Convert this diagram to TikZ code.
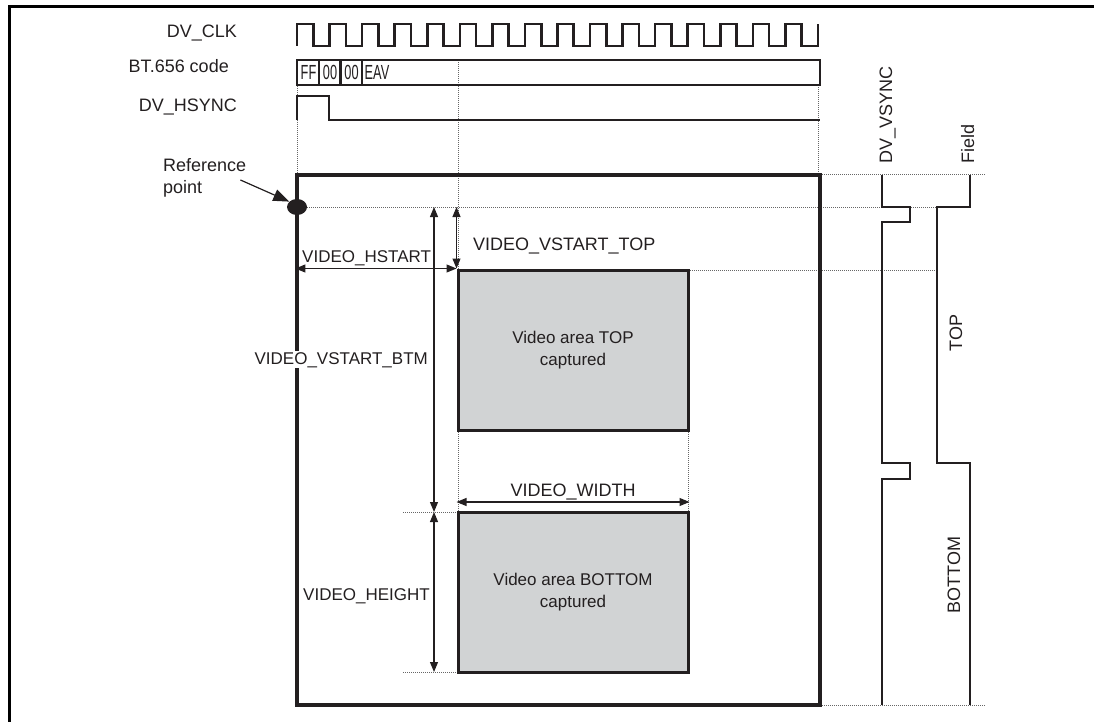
\documentclass[tikz,border=0pt]{standalone}
\usepackage{fontspec}
\setmainfont{Liberation Sans}
\usetikzlibrary{arrows.meta,shapes.geometric}
\definecolor{ink}{HTML}{231F20}
\definecolor{area}{HTML}{D1D3D4}
\newcommand{\codetxt}[1]{\scalebox{0.75}[1.2]{#1}}
\begin{document}
\begin{tikzpicture}[x=1pt,y=-1pt,
  wave/.style={line width=2.6pt, line join=miter, draw=ink},
  framebox/.style={draw=ink, line width=3.2pt, minimum width=523pt, minimum height=530pt, inner sep=0pt},
  dots/.style={dash pattern=on 1pt off 1pt, line width=0.8pt, draw=black!60},
  dim/.style={line width=1.1pt, draw=ink, {Triangle[length=10pt,width=8pt]}-{Triangle[length=10pt,width=8pt]}},
  lbl/.style={font=\fontsize{18}{22}\selectfont, inner sep=0pt, text=ink},
  lbls/.style={font=\fontsize{17}{22}\selectfont, inner sep=0pt, text=ink},
  code/.style={font=\fontsize{17}{20}\selectfont, inner sep=0pt, text=ink},
  vbox/.style={draw=ink, fill=area, line width=3pt, minimum width=230pt, minimum height=160pt, inner sep=0pt, align=center, font=\fontsize{17}{22}\selectfont, text=ink},
]
\useasboundingbox (0,0) rectangle (1094,722);
% outer partial frame
\draw[line width=3pt] (9,722) -- (9,7) -- (1094,7);

% dotted guide lines
\draw[dots] (297,60) -- (297,175);
\draw[dots] (458,60) -- (458,513);
\draw[dots] (818,85) -- (818,175);
\draw[dots] (297,207) -- (937,207);
\draw[dots] (820,174) -- (985,174);
\draw[dots] (688,270) -- (937,270);
\draw[dots] (688,430) -- (688,512);
\draw[dots] (403,512) -- (458,512);
\draw[dots] (403,672) -- (458,672);
\draw[dots] (820,705) -- (985,705);

% timing labels
\node[lbl, anchor=base east] (clkl) at (237,38) {DV\_CLK};
\node[lbl, anchor=base east] (btl) at (229,73) {BT.656 code};
\node[lbl, anchor=base east] (hsl) at (237,112) {DV\_HSYNC};

% clock
\draw[wave] (297,46) foreach \i in {1,...,16} { -- ++(0,-22) -- ++(16.28,0) -- ++(0,22) -- ++(16.28,0) } -- ++(0,-22);

% BT.656 code row
\draw[line width=2.2pt, draw=ink] (297,60) rectangle (820,85);
\draw[line width=2.2pt, draw=ink] (319,60) -- (319,85) (340.5,60) -- (340.5,85) (362,60) -- (362,85);
\node[code] (ff) at (308.5,72.5) {\codetxt{FF}};
\node[code] (z1) at (330,72.5) {\codetxt{00}};
\node[code] (z2) at (351.5,72.5) {\codetxt{00}};
\node[code, anchor=west] (eav) at (364.5,72.5) {\codetxt{EAV}};

% HSYNC
\draw[wave] (297,120) -- (297,96) -- (329,96) -- (329,120) -- (820,120);

% main frame
\node[framebox] (fr) at (558.5,440) {};

% video areas
\node[vbox] (vtop) at (573,350) {Video area TOP\\captured};
\node[vbox] (vbot) at (573,592.5) {Video area BOTTOM\\captured};

% reference point
\node[fill=ink, ellipse, minimum width=20pt, minimum height=16pt, inner sep=0pt] (rp) at (297,207) {};
\node[lbl, align=left, anchor=north west] (rpl) at (163,158) {Reference\\point};
\draw[line width=1.2pt, draw=ink, -{Triangle[length=16pt,width=12pt]}] (rpl.north east) ++(-6,22) coordinate (rs) -- (rp.145);

% dimension arrows
\draw[dim] (fr.west |- vtop.north west) -- (vtop.north west);
\node[lbls, anchor=base west] (hstart) at (302,262) {VIDEO\_HSTART};
\draw[dim] (rp -| vtop.north west) -- (vtop.north west);
\node[lbl, anchor=base west] (vstop) at (473,250) {VIDEO\_VSTART\_TOP};
\coordinate (b1) at (434,207);
\coordinate (b2) at (434,512);
\coordinate (b3) at (434,672);
\draw[dim] (b1) -- (b2);
\node[lbls, anchor=base east, fill=white, inner sep=1pt] (vsbtm) at (429,364) {VIDEO\_VSTART\_BTM};
\draw[dim] (vtop.south west |- 0,502) -- (vtop.south east |- 0,502);
\node[lbl, anchor=base] (vwidth) at (573,496) {VIDEO\_WIDTH};
\draw[dim] (b2) -- (b3);
\node[lbls, anchor=base east] (vheight) at (430,600) {VIDEO\_HEIGHT};

% right-side signals
\node[lbl, rotate=90, anchor=base west] (vsl) at (892,164) {DV\_VSYNC};
\node[lbl, rotate=90, anchor=base west] (fl) at (974,164) {Field};
\draw[wave] (882,175) -- (882,207) -- (910,207) -- (910,222) -- (882,222) -- (882,463) -- (910,463) -- (910,479) -- (882,479) -- (882,705);
\draw[wave] (970,175) -- (970,207) -- (937,207) -- (937,463) -- (970,463) -- (970,705);
\node[lbl, rotate=90, anchor=base] (topl) at (962,333) {TOP};
\node[lbl, rotate=90, anchor=base] (botl) at (960,575) {BOTTOM};
\end{tikzpicture}
\end{document}
